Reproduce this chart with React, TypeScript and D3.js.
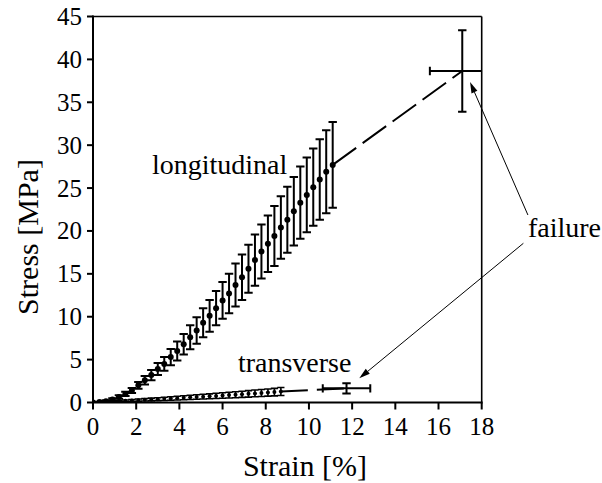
import React from 'react';
import * as d3 from 'd3';

// Longitudinal series (strain %, stress MPa, stress error)
const longStrain = [0, 0.3, 0.6, 0.9, 1.2, 1.5, 1.8, 2.1, 2.4, 2.7, 3.0, 3.3, 3.6, 3.9, 4.2, 4.5, 4.8, 5.1, 5.4, 5.7, 6.0, 6.3, 6.6, 6.9, 7.2, 7.5, 7.8, 8.1, 8.4, 8.7, 9.0, 9.3, 9.6, 9.9, 10.2, 10.5, 10.8, 11.1];
const longStress = [0, 0.05, 0.15, 0.35, 0.65, 1.0, 1.4, 2.0, 2.6, 3.2, 3.9, 4.5, 5.3, 6.0, 6.8, 7.6, 8.4, 9.3, 10.1, 11.0, 11.9, 12.7, 13.7, 14.6, 15.6, 16.6, 17.6, 18.5, 19.4, 20.4, 21.3, 22.3, 23.3, 24.2, 25.1, 26.0, 26.9, 27.7];
const longErr = [0, 0.05, 0.1, 0.15, 0.2, 0.25, 0.3, 0.4, 0.5, 0.6, 0.7, 0.8, 0.95, 1.1, 1.2, 1.4, 1.55, 1.7, 1.85, 2.0, 2.15, 2.3, 2.5, 2.65, 2.8, 3.0, 3.15, 3.3, 3.5, 3.65, 3.85, 4.0, 4.2, 4.35, 4.5, 4.7, 4.85, 5.0];

// Transverse series
const transStrain = [0, 0.3, 0.6, 0.9, 1.2, 1.5, 1.8, 2.1, 2.4, 2.7, 3.0, 3.3, 3.6, 3.9, 4.2, 4.5, 4.8, 5.1, 5.4, 5.7, 6.0, 6.3, 6.6, 6.9, 7.2, 7.5, 7.8, 8.1, 8.4, 8.7];
const transStress = [0, 0.03, 0.07, 0.11, 0.15, 0.19, 0.23, 0.27, 0.31, 0.35, 0.39, 0.43, 0.47, 0.51, 0.55, 0.6, 0.64, 0.68, 0.72, 0.77, 0.81, 0.86, 0.91, 0.96, 1.01, 1.06, 1.11, 1.16, 1.21, 1.28];
const transErr = [0, 0.02, 0.04, 0.06, 0.08, 0.1, 0.11, 0.13, 0.14, 0.16, 0.17, 0.19, 0.2, 0.22, 0.23, 0.25, 0.26, 0.28, 0.29, 0.3, 0.32, 0.33, 0.35, 0.36, 0.38, 0.39, 0.41, 0.42, 0.44, 0.46];

// Failure points: [strain, stress, strainErr, stressErr]
const longFailure = [17.1, 38.65, 1.5, 4.75];
const transFailure = [11.74, 1.65, 1.1, 0.6];

const xTicks = [0, 2, 4, 6, 8, 10, 12, 14, 16, 18];
const yTicks = [0, 5, 10, 15, 20, 25, 30, 35, 40, 45];

// Annotations in data coordinates
const labelLong = { text: 'longitudinal', x: 2.73, y: 26.6 };
const labelTrans = { text: 'transverse', x: 6.71, y: 3.56 };
const labelFail = { text: 'failure', x: 20.14, y: 19.29 };
const arrows = [
  { x0: 20.14, y0: 21.86, x1: 17.46, y1: 37.36 },
  { x0: 19.93, y0: 18.56, x1: 12.33, y1: 2.82 },
];

const W = 602, H = 483;
const SERIF = "'Liberation Serif'";

export default function App() {
  const x = d3.scaleLinear().domain([0, 18]).range([93, 481.7]);
  const y = d3.scaleLinear().domain([0, 45]).range([402.5, 16.5]);
  const cap = 4.2;

  const errBar = (cx: number, cy: number, e: number, key: string, sw = 2, c = cap) => {
    const top = y(cy + e), bot = y(cy - e), px = x(cx);
    return (
      <g key={key} stroke="#000" strokeWidth={sw}>
        <line x1={px} x2={px} y1={top} y2={bot} />
        <line x1={px - c} x2={px + c} y1={top} y2={top} />
        <line x1={px - c} x2={px + c} y1={bot} y2={bot} />
      </g>
    );
  };

  const arrowHead = (a: any, i: number) => {
    const x0 = x(a.x0), y0 = y(a.y0), x1 = x(a.x1), y1 = y(a.y1);
    const ang = Math.atan2(y1 - y0, x1 - x0);
    const L = 11, Wd = 3.2;
    const bx = x1 - L * Math.cos(ang), by = y1 - L * Math.sin(ang);
    const nx = -Math.sin(ang), ny = Math.cos(ang);
    const pts = `${x1},${y1} ${bx + nx * Wd},${by + ny * Wd} ${bx - nx * Wd},${by - ny * Wd}`;
    return (
      <g key={'arr' + i}>
        <line x1={x0} y1={y0} x2={bx} y2={by} stroke="#000" strokeWidth={1} />
        <polygon points={pts} fill="#000" />
      </g>
    );
  };

  const nL = longStrain.length - 1;
  const nT = transStrain.length - 1;

  return (
    <svg width={W} height={H} style={{ position: 'absolute', left: 0, top: 0, background: '#fff' }}>
      <defs>
        <clipPath id="plot">
          <rect x={x(0)} y={y(45)} width={x(18) - x(0)} height={y(0) - y(45)} />
        </clipPath>
      </defs>
      {/* frame */}
      <line x1={x(0)} x2={x(18)} y1={y(45)} y2={y(45)} stroke="#000" strokeWidth={1.6} />
      <line x1={x(18)} x2={x(18)} y1={y(45)} y2={y(0)} stroke="#000" strokeWidth={1.6} />
      <line x1={x(0)} x2={x(0)} y1={y(45) - 1} y2={y(0) + 1} stroke="#000" strokeWidth={2} />
      <line x1={x(0) - 1} x2={x(18) + 1} y1={y(0)} y2={y(0)} stroke="#000" strokeWidth={2} />
      {/* y ticks */}
      {yTicks.map((t) => (
        <line key={'yt' + t} x1={x(0) - 6} x2={x(0)} y1={y(t)} y2={y(t)} stroke="#000" strokeWidth={2} />
      ))}
      {yTicks.map((t) => (
        <text key={'yl' + t} x={x(0) - 11} y={y(t) + 8.5} textAnchor="end" fontSize={25}
          style={{ fontFamily: SERIF }}>{t}</text>
      ))}
      {/* x ticks */}
      {xTicks.map((t) => (
        <line key={'xt' + t} x1={x(t)} x2={x(t)} y1={y(0)} y2={y(0) + 7} stroke="#000" strokeWidth={2} />
      ))}
      {xTicks.map((t) => (
        <text key={'xl' + t} x={x(t)} y={435} textAnchor="middle" fontSize={25}
          style={{ fontFamily: SERIF }}>{t}</text>
      ))}
      {/* axis labels */}
      <text x={305} y={476} textAnchor="middle" fontSize={30} style={{ fontFamily: SERIF }}>Strain [%]</text>
      <text transform="translate(38,237) rotate(-90)" textAnchor="middle" fontSize={30}
        style={{ fontFamily: SERIF }}>Stress [MPa]</text>

      <g clipPath="url(#plot)">
        {/* dashed extensions to failure */}
        <line x1={x(longStrain[nL])} y1={y(longStress[nL])} x2={x(longFailure[0])} y2={y(longFailure[1])}
          stroke="#000" strokeWidth={2} strokeDasharray="29,8" />
        <line x1={x(transStrain[nT])} y1={y(transStress[nT])} x2={x(transFailure[0])} y2={y(transFailure[1])}
          stroke="#000" strokeWidth={2} strokeDasharray="27,9" />
        {/* transverse */}
        {transStrain.map((s, i) => errBar(s, transStress[i], transErr[i], 't' + i, 1.6, 3.6))}
        {transStrain.map((s, i) => (
          <circle key={'tc' + i} cx={x(s)} cy={y(transStress[i])} r={2} fill="#000" />
        ))}
        {/* longitudinal */}
        {longStrain.map((s, i) => errBar(s, longStress[i], longErr[i], 'l' + i))}
        {longStrain.map((s, i) => (
          <circle key={'lc' + i} cx={x(s)} cy={y(longStress[i])} r={3} fill="#000" />
        ))}
        {/* failure crosses */}
        {[longFailure, transFailure].map((f, i) => {
          const px = x(f[0]), py = y(f[1]);
          const xl = x(f[0] - f[2]), xr = x(f[0] + f[2]);
          const yt = y(f[1] + f[3]), yb = y(f[1] - f[3]);
          return (
            <g key={'f' + i} stroke="#000" strokeWidth={2}>
              <line x1={px} x2={px} y1={yt} y2={yb} />
              <line x1={px - cap} x2={px + cap} y1={yt} y2={yt} />
              <line x1={px - cap} x2={px + cap} y1={yb} y2={yb} />
              <line x1={xl} x2={xr} y1={py} y2={py} />
              <line x1={xl} x2={xl} y1={py - cap} y2={py + cap} />
              <line x1={xr} x2={xr} y1={py - cap} y2={py + cap} />
            </g>
          );
        })}
      </g>
      {/* annotations */}
      <text x={x(labelLong.x)} y={y(labelLong.y)} fontSize={28} style={{ fontFamily: SERIF }}>{labelLong.text}</text>
      <text x={x(labelTrans.x)} y={y(labelTrans.y)} fontSize={28} style={{ fontFamily: SERIF }}>{labelTrans.text}</text>
      <text x={x(labelFail.x)} y={y(labelFail.y)} fontSize={28} style={{ fontFamily: SERIF }}>{labelFail.text}</text>
      {arrows.map(arrowHead)}
    </svg>
  );
}
